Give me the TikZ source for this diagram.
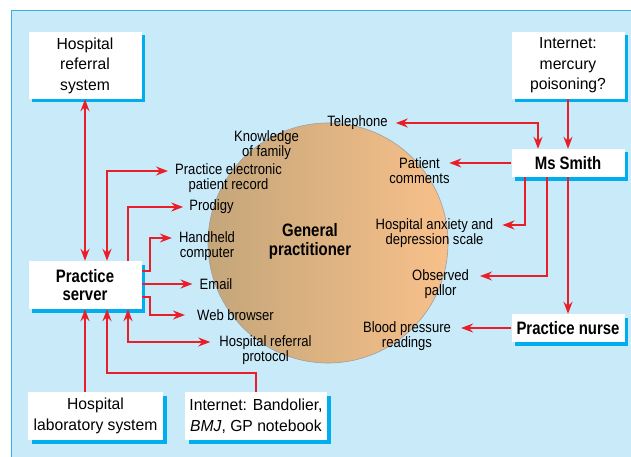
\documentclass[tikz,border=0pt]{standalone}
\usepackage{fontspec}
\setmainfont{Liberation Sans}
\newfontfamily\labfont{Liberation Sans}[FakeStretch=0.87]
\newfontfamily\boxfont{Liberation Sans}[FakeStretch=0.98]
\newfontfamily\bldfont{Liberation Sans}[FakeStretch=0.83]
\usetikzlibrary{arrows.meta,shadows}
\definecolor{panelfill}{RGB}{201,234,249}
\definecolor{panelline}{RGB}{52,176,228}
\definecolor{shcol}{RGB}{0,174,239}
\definecolor{arrred}{RGB}{234,30,40}
\definecolor{circL}{RGB}{196,166,122}
\definecolor{circR}{RGB}{248,192,138}
\begin{document}
\begin{tikzpicture}[x=1pt,y=-1pt,
  box/.style={fill=white, inner sep=0pt, align=center,
    drop shadow={shadow xshift=3.5pt,shadow yshift=-3.5pt,fill=shcol,opacity=1},
    font=\boxfont\fontsize{16}{20.5}\selectfont},
  boldbox/.style={box, font=\bldfont\bfseries\fontsize{18}{18.5}\selectfont},
  lbl/.style={inner sep=0pt, align=center, font=\labfont\fontsize{15}{15}\selectfont},
  conn/.style={draw=arrred, line width=1.7pt},
  arr/.style={conn, -{Stealth[length=12pt,width=9pt,inset=4pt]}},
  arrs/.style={conn, {Stealth[length=12pt,width=9pt,inset=4pt]}-{Stealth[length=12pt,width=9pt,inset=4pt]}}
]
\useasboundingbox (0,0) rectangle (631,457);
\clip (0,0) rectangle (631,457);
\fill[panelfill] (11,11) rectangle (650,470);
\draw[panelline, line width=1pt] (650,11) -- (11,11) -- (11,470);

% central circle
\node[circle, minimum size=240pt, inner sep=0pt, draw=gray!75, line width=0.6pt,
      left color=circL, right color=circR] (circ) at (328,243) {};
\node[inner sep=0pt, align=center, font=\bldfont\bfseries\fontsize{18}{18.5}\selectfont] (gp) at (310,241.5) {General\\practitioner};

% labels
\node[lbl] (tel) at (357.5,123) {Telephone};
\node[lbl] (know) at (266.5,145) {Knowledge\\of family};
\node[lbl] (rec) at (228.5,178) {Practice electronic\\patient record};
\node[lbl] (prod) at (211.5,207) {Prodigy};
\node[lbl] (hand) at (207,246) {Handheld\\computer};
\node[lbl] (email) at (216,284) {Email};
\node[lbl] (web) at (235.5,315) {Web browser};
\node[lbl] (proto) at (265.5,350) {Hospital referral\\protocol};
\node[lbl] (pcom) at (419.5,170.5) {Patient\\comments};
\node[lbl] (hads) at (434.5,233) {Hospital anxiety and\\depression scale};
\node[lbl] (pallor) at (440.5,284) {Observed\\pallor};
\node[lbl] (bp) at (407,336) {Blood pressure\\readings};

% boxes
\node[box, minimum width=113pt, minimum height=67pt] (hrs) at (85,65.5) {Hospital\\referral\\system};
\node[box, minimum width=113pt, minimum height=67pt] (inet) at (568,65.5) {Internet:\\mercury\\poisoning?};
\node[boldbox, minimum width=113pt, minimum height=28pt] (smith) at (568,163) {Ms Smith};
\node[boldbox, minimum width=113pt, minimum height=48pt] (server) at (85,285) {Practice\\server};
\node[boldbox, minimum width=113pt, minimum height=28pt] (nurse) at (568,328) {Practice nurse};
\node[box, minimum width=135pt, minimum height=48pt] (lab) at (95.5,416) {Hospital\\laboratory system};
\node[box, minimum width=142pt, minimum height=48pt] (band) at (256,416) {Internet: Bandolier,\\\textit{BMJ}, GP notebook};

% connectors
\draw[arrs] (hrs.south) -- (server.north);
\draw[arrs] ([xshift=22pt]server.north) |- ([xshift=-7pt,yshift=7pt]rec.west);
\draw[arr] ([xshift=43pt]server.north) |- ([xshift=-6pt]prod.west);
\draw[arr] ([yshift=14pt]server.east) -- ++(8,0) |- ([xshift=-7pt,yshift=8pt]hand.west);
\draw[arr] (server.east |- email.west) -- ([xshift=-7pt]email.west);
\draw[arr] ([yshift=-12pt]server.east) -- ++(8,0) |- ([xshift=-12pt]web.west);
\draw[arrs] ([xshift=43pt]server.south) |- ([xshift=-9pt,yshift=8pt]proto.west);
\draw[arr] (server.south |- lab.north) -- (server.south);
\draw[arr] (band.north) -- ++(0,-19) -| ([xshift=22pt]server.south);
\draw[arrs] ([xshift=8pt]tel.east) -| ([xshift=-30pt]smith.north);
\draw[arr] (inet.south) -- (smith.north);
\draw[arr] (smith.west) -- ++(-62,0);
\draw[arr] ([xshift=-43pt]smith.south) |- ([xshift=9pt,yshift=8pt]hads.east);
\draw[arr] ([xshift=-21pt]smith.south) |- ([xshift=11pt,yshift=8pt]pallor.east);
\draw[arr] (smith.south) -- (nurse.north);
\draw[arr] (nurse.west) -- ([xshift=10pt,yshift=8pt]bp.east);
\end{tikzpicture}
\end{document}
